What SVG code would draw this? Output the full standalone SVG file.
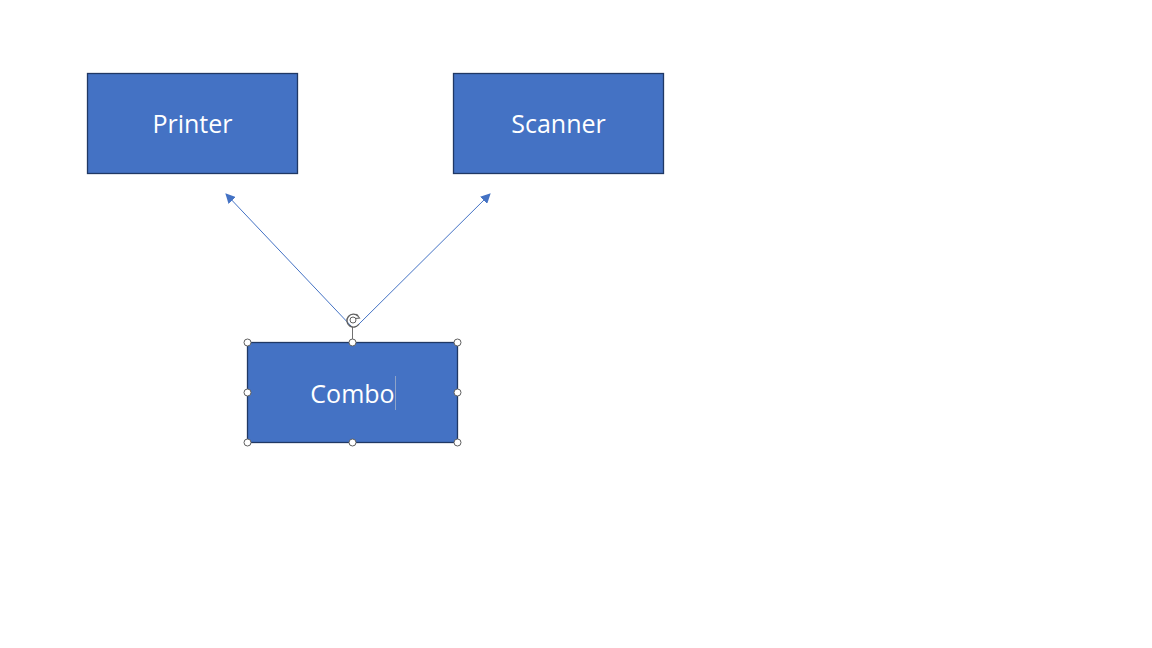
<svg xmlns="http://www.w3.org/2000/svg" width="1152" height="648" viewBox="0 0 1152 648">
<style>
.box{fill:#4472C4;stroke:#203864;stroke-width:1.3}
.lbl{font-family:"Open Sans","Noto Sans","Liberation Sans",sans-serif;font-size:25px;fill:#FFFFFF;text-anchor:middle}
.conn{stroke:#4472C4;stroke-width:1;fill:none}
.hdl{fill:#FFFFFF;stroke:#606060;stroke-width:1}
</style>
<defs>
<marker id="ah" viewBox="0 0 10 10" refX="9" refY="5" markerWidth="10" markerHeight="10" markerUnits="userSpaceOnUse" orient="auto">
<path d="M0,0 L10,5 L0,10 z" fill="#4472C4"/>
</marker>
</defs>
<rect width="1152" height="648" fill="#FFFFFF"/>
<g id="connectors">
<line class="conn" x1="352" y1="327" x2="226" y2="194" marker-end="url(#ah)"/>
<line class="conn" x1="356" y1="327" x2="490" y2="194" marker-end="url(#ah)"/>
</g>
<g id="printer">
<rect class="box" x="87.5" y="73.5" width="210" height="100"/>
<text class="lbl" x="192.5" y="133">Printer</text>
</g>
<g id="scanner">
<rect class="box" x="453.5" y="73.5" width="210" height="100"/>
<text class="lbl" x="558.5" y="133">Scanner</text>
</g>
<g id="combo">
<rect class="box" x="247.5" y="342.5" width="210" height="100"/>
<text class="lbl" x="352.5" y="403">Combo</text>
<line x1="395.5" y1="376" x2="395.5" y2="410" stroke="#8EA3C8" stroke-width="1"/>
</g>
<g id="selection">
<line x1="352.5" y1="327" x2="352.5" y2="342" stroke="#707070" stroke-width="1"/>
<path d="M358,316 A6.5,6.5 0 1 0 359,324" fill="none" stroke="#606060" stroke-width="1.4"/>
<path d="M356.5,314 L359.5,318 L355.5,318.5" fill="none" stroke="#606060" stroke-width="1.1"/>
<circle cx="353" cy="320" r="3" fill="none" stroke="#606060" stroke-width="1"/>
<circle class="hdl" cx="247.5" cy="342.5" r="3.5"/>
<circle class="hdl" cx="352.5" cy="342.5" r="3.5"/>
<circle class="hdl" cx="457.5" cy="342.5" r="3.5"/>
<circle class="hdl" cx="247.5" cy="392.5" r="3.5"/>
<circle class="hdl" cx="457.5" cy="392.5" r="3.5"/>
<circle class="hdl" cx="247.5" cy="442.5" r="3.5"/>
<circle class="hdl" cx="352.5" cy="442.5" r="3.5"/>
<circle class="hdl" cx="457.5" cy="442.5" r="3.5"/>
</g>
</svg>
